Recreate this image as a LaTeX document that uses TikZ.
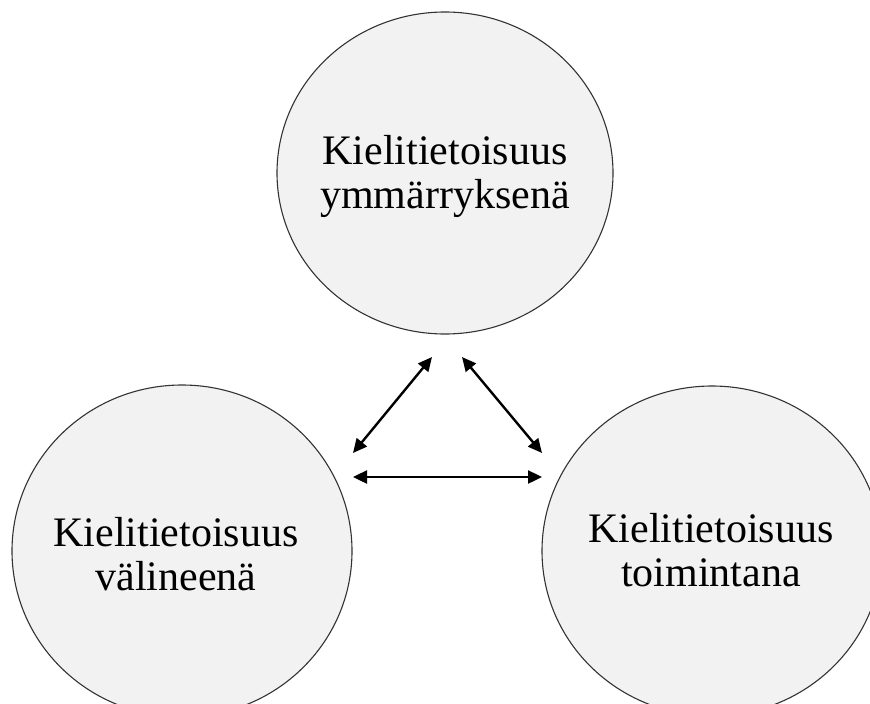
\documentclass[tikz,border=0pt]{standalone}
\usepackage{fontspec}
\setmainfont{Liberation Serif}
\usetikzlibrary{shapes.geometric,arrows.meta}
\definecolor{circfill}{HTML}{F2F2F2}
\definecolor{circline}{HTML}{333333}
\tikzset{
  bubble/.style={ellipse, draw=circline, line width=1.1pt, fill=circfill, inner sep=0pt},
  bubbletext/.style={align=center, font=\fontsize{42}{44}\selectfont, inner sep=0pt},
  linkarrow/.style={line width=2.4pt, {Triangle[length=14pt,width=13pt]}-{Triangle[length=14pt,width=13pt]}}
}
\begin{document}
\begin{tikzpicture}[x=1pt,y=-1pt]
\useasboundingbox (0,0) rectangle (870,704);
\fill[white] (0,0) rectangle (870,704);
\node[bubble, minimum width=336pt, minimum height=322pt] (top) at (445,173) {};
\node[bubbletext] (toptext) at (445,176) {Kielitietoisuus\\ymmärryksenä};
\node[bubble, minimum width=340pt, minimum height=332pt] (left) at (182,551) {};
\node[bubble, minimum width=340pt, minimum height=330pt] (right) at (712,551) {};
\node[bubbletext] (lefttext) at (176,554) {Kielitietoisuus\\välineenä};
\node[bubbletext] (righttext) at (711,550) {Kielitietoisuus\\toimintana};
\coordinate (a1) at (353,453);
\coordinate (a2) at (432,357);
\coordinate (b1) at (462,357);
\coordinate (b2) at (542,453);
\coordinate (c1) at (353,477);
\coordinate (c2) at (542,477);
\draw[linkarrow] (a1) -- (a2);
\draw[linkarrow] (b1) -- (b2);
\draw[linkarrow] (c1) -- (c2);
\end{tikzpicture}
\end{document}
